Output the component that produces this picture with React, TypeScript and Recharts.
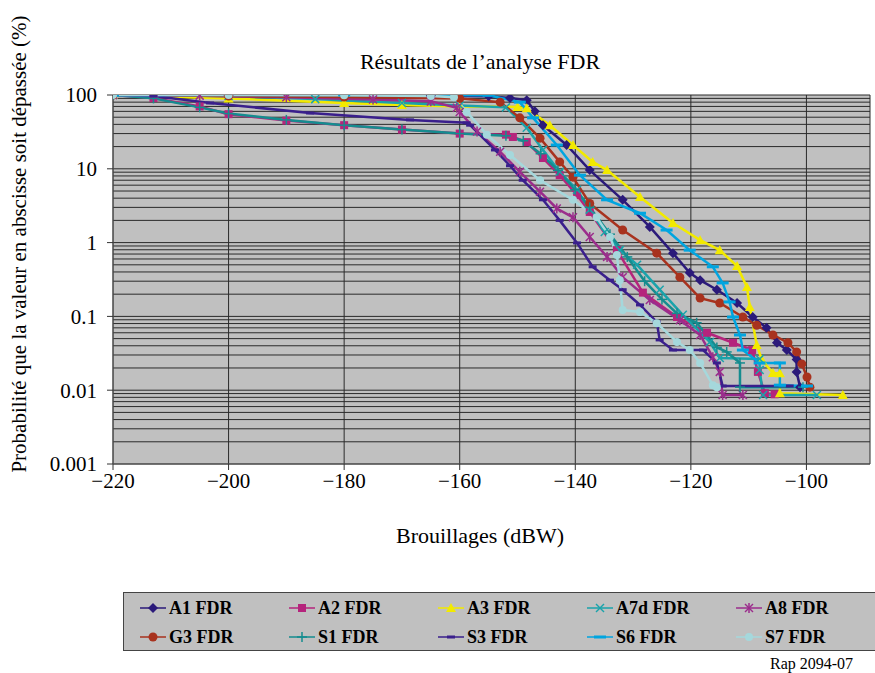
import React from 'react';
import { LineChart, Line, XAxis, YAxis, CartesianGrid } from 'recharts';

// axis ticks
const xTicks = [-220, -200, -180, -160, -140, -120, -100];
const yDecades = [0.001, 0.01, 0.1, 1, 10, 100];

// series values: interference (dBW) / probability (%)
const a1X = [-220, -200, -180, -165, -155, -151.3, -148.4, -147, -145.6, -141.5, -137.5, -131.8, -127.1, -123.1, -120.2, -118.4, -115.5, -112.0, -109.3, -106.9, -105.1, -103.4, -101.7, -101.7, -101.1];
const a1Y = [100, 99.5, 99, 98, 96, 91, 85, 60, 39, 21, 9.6, 3.8, 1.63, 0.72, 0.39, 0.31, 0.23, 0.152, 0.098, 0.07, 0.044, 0.035, 0.026, 0.0177, 0.011];

const a2X = [-220, -213, -205, -200, -190, -180, -170, -160, -152, -150.8, -148.4, -145.6, -142.7, -139.7, -137.5, -132.8, -128.3, -122.4, -117.2, -112.7, -109.4, -108.4, -107.2, -105.5];
const a2Y = [100, 91, 70, 55, 45, 39, 34, 30, 29, 27, 23, 14, 8.2, 4.4, 2.6, 0.79, 0.21, 0.098, 0.06, 0.044, 0.035, 0.0177, 0.0091, 0.0088];

const a3X = [-220, -200, -180, -170, -160, -150, -148.4, -144.4, -140.4, -137.0, -134.5, -128.8, -123.1, -118.4, -115.0, -112.0, -110.3, -109.8, -108.6, -107.7, -105.8, -104.6, -104.6, -93.7];
const a3Y = [100, 90, 78, 73, 70, 69, 66, 39, 21, 12.4, 9.6, 4.15, 1.84, 1.08, 0.79, 0.48, 0.25, 0.134, 0.041, 0.0257, 0.0171, 0.017, 0.0091, 0.0086];

const a7dX = [-220, -200, -185, -170, -160, -152, -148.4, -145.6, -142.7, -139.7, -137.5, -134.9, -132.3, -129.3, -125.4, -121.4, -116.7, -115.0, -108.1, -108.1, -107.5, -98.2];
const a7dY = [100, 97, 88, 78, 72, 68, 36, 18, 9.1, 5.2, 2.8, 1.39, 0.79, 0.5, 0.23, 0.105, 0.045, 0.0273, 0.0265, 0.0188, 0.0086, 0.0086];

const a8X = [-220, -205, -190, -175, -165, -160.5, -160, -157, -153, -149.6, -146.1, -143.2, -140.4, -137.5, -134.5, -131.8, -127.1, -121.9, -118.4, -116.2, -115.0, -114.5, -111.0];
const a8Y = [100, 98, 93, 87, 82, 67, 59, 32, 17, 9.1, 4.9, 2.9, 2.2, 1.19, 0.64, 0.34, 0.167, 0.089, 0.056, 0.028, 0.0177, 0.0086, 0.0086];

const g3X = [-220, -200, -180, -160, -153, -149.6, -146.1, -142.7, -140.4, -137.5, -131.8, -125.9, -121.9, -118.4, -115.0, -111.0, -108.6, -105.8, -103.2, -101.7, -100.8, -99.9, -99.4];
const g3Y = [100, 97, 94, 90, 80, 49, 26, 12.4, 7.7, 3.4, 1.48, 0.72, 0.34, 0.177, 0.152, 0.098, 0.076, 0.056, 0.044, 0.033, 0.0227, 0.0151, 0.011];

const s1X = [-220, -213, -205, -200, -190, -180, -170, -160, -152, -149, -146, -143, -140, -137.5, -134, -131, -128, -125, -122.4, -119, -115.5, -113.8, -111.5, -111.5, -100.6];
const s1Y = [100, 90, 68, 56, 46, 39, 34, 30, 28, 24, 16, 9.5, 5.2, 3.0, 1.3, 0.64, 0.3, 0.17, 0.11, 0.082, 0.038, 0.033, 0.0234, 0.011, 0.011];

const s3X = [-220, -213, -203.2, -185.9, -168.6, -158.8, -158.2, -153.9, -151.3, -149.1, -145.6, -142.7, -139.7, -137.0, -134.0, -131.8, -128.8, -125.9, -125.4, -123.1, -117.9, -115.5, -114.5, -102.9];
const s3Y = [100, 97, 78, 57, 46, 42, 39, 18, 11, 7.0, 3.8, 2.0, 0.99, 0.47, 0.31, 0.23, 0.143, 0.084, 0.048, 0.035, 0.035, 0.0234, 0.0114, 0.0114];

const s6X = [-220, -180, -155, -149.6, -147.3, -143.2, -139.2, -134.5, -128.8, -124.2, -120.2, -116.2, -114.5, -113.3, -112.7, -111.5, -111.0, -108.1, -104.6, -104.6, -99.9];
const s6Y = [100, 100, 99, 80, 49, 21, 8.2, 3.8, 2.5, 1.48, 0.79, 0.47, 0.284, 0.157, 0.098, 0.056, 0.035, 0.0234, 0.0234, 0.0117, 0.0114];

const s7X = [-220, -200, -180, -165, -161, -158.8, -155.3, -151.3, -146.1, -140.4, -136.3, -134.0, -132.8, -132.3, -131.8, -128.8, -125.9, -122.4, -120.2, -118.4, -116.2, -115.5];
const s7Y = [100, 100, 99, 97, 93, 59, 29, 15.4, 7.0, 3.8, 2.2, 1.19, 0.68, 0.31, 0.122, 0.115, 0.081, 0.045, 0.035, 0.0234, 0.0117, 0.011];

const zip = (xs: number[], ys: number[]) => xs.map((x, i) => ({ x, y: ys[i] }));

const series = [
  { name: 'A1 FDR', color: '#2b1a7a', shape: 'diamond', data: zip(a1X, a1Y) },
  { name: 'A2 FDR', color: '#b5247c', shape: 'square', data: zip(a2X, a2Y) },
  { name: 'A3 FDR', color: '#f2ea00', shape: 'triangle', data: zip(a3X, a3Y) },
  { name: 'A7d FDR', color: '#1aa3ab', shape: 'cross', data: zip(a7dX, a7dY) },
  { name: 'A8 FDR', color: '#9b2d8c', shape: 'star', data: zip(a8X, a8Y) },
  { name: 'G3 FDR', color: '#a8321e', shape: 'circle', data: zip(g3X, g3Y) },
  { name: 'S1 FDR', color: '#158c8f', shape: 'plus', data: zip(s1X, s1Y) },
  { name: 'S3 FDR', color: '#3a1f8c', shape: 'dash', data: zip(s3X, s3Y) },
  { name: 'S6 FDR', color: '#00a5e0', shape: 'bar', data: zip(s6X, s6Y) },
  { name: 'S7 FDR', color: '#a5d8dc', shape: 'dot', data: zip(s7X, s7Y) },
];

// log grid: every 1..9 multiple of each decade
const yGrid: number[] = [];
yDecades.forEach((d, i) => {
  if (i === yDecades.length - 1) {
    yGrid.push(d);
    return;
  }
  for (let k = 1; k < 10; k++) yGrid.push(d * k);
});

const SERIF = 'Liberation Serif, Tinos, DejaVu Serif, serif';

const Marker = ({ cx, cy, shape, color }: any) => {
  if (cx == null || cy == null) return <g />;
  switch (shape) {
    case 'diamond':
      return <polygon points={`${cx},${cy - 5} ${cx + 5},${cy} ${cx},${cy + 5} ${cx - 5},${cy}`} fill={color} />;
    case 'square':
      return <rect x={cx - 4} y={cy - 4} width={8} height={8} fill={color} />;
    case 'triangle':
      return <polygon points={`${cx},${cy - 5} ${cx + 5},${cy + 4} ${cx - 5},${cy + 4}`} fill={color} />;
    case 'cross':
      return (
        <g stroke={color} strokeWidth={1.5}>
          <line x1={cx - 4} y1={cy - 4} x2={cx + 4} y2={cy + 4} />
          <line x1={cx - 4} y1={cy + 4} x2={cx + 4} y2={cy - 4} />
        </g>
      );
    case 'star':
      return (
        <g stroke={color} strokeWidth={1.5}>
          <line x1={cx - 4} y1={cy - 4} x2={cx + 4} y2={cy + 4} />
          <line x1={cx - 4} y1={cy + 4} x2={cx + 4} y2={cy - 4} />
          <line x1={cx} y1={cy - 5} x2={cx} y2={cy + 5} />
        </g>
      );
    case 'circle':
      return <circle cx={cx} cy={cy} r={4.5} fill={color} />;
    case 'plus':
      return (
        <g stroke={color} strokeWidth={1.5}>
          <line x1={cx - 5} y1={cy} x2={cx + 5} y2={cy} />
          <line x1={cx} y1={cy - 5} x2={cx} y2={cy + 5} />
        </g>
      );
    case 'dash':
      return <rect x={cx - 4} y={cy - 1.5} width={8} height={3} fill={color} />;
    case 'bar':
      return <rect x={cx - 6} y={cy - 1.5} width={12} height={3} fill={color} />;
    default:
      return <circle cx={cx} cy={cy} r={4} fill={color} />;
  }
};

const YTick = (props: any) => {
  const { x, y, payload } = props;
  if (!yDecades.includes(payload.value)) return <g />;
  return (
    <g>
      <line x1={x + 10} x2={x + 16} y1={y} y2={y} stroke="#333" />
      <text x={x} y={y} dy="0.35em" textAnchor="end" fontSize={21} fontFamily={SERIF} fill="#000">
        {String(payload.value)}
      </text>
    </g>
  );
};

const fmtX = (v: number) => (v < 0 ? '\u2212' + Math.abs(v) : String(v));

const App = () => {
  return (
    <div style={{ position: 'absolute', left: 0, top: 0, width: 875, height: 673, overflow: 'hidden', background: '#fff', fontFamily: SERIF }}>
      <LineChart width={875} height={673} margin={{ top: 95, right: 5, bottom: 0, left: 0 }}>
        <CartesianGrid fill="#c0c0c0" fillOpacity={1} stroke="#2a2a2a" strokeWidth={1} />
        <XAxis
          type="number"
          dataKey="x"
          domain={[-220, -89]}
          ticks={xTicks}
          allowDataOverflow
          height={209}
          tickSize={6}
          tickMargin={3}
          tickFormatter={fmtX}
          axisLine={{ stroke: '#555' }}
          tickLine={{ stroke: '#333' }}
          tick={{ fontSize: 21, fontFamily: SERIF, fill: '#000' }}
        />
        <YAxis
          type="number"
          dataKey="y"
          scale="log"
          domain={[0.001, 100]}
          allowDataOverflow
          ticks={yGrid}
          interval={0}
          width={113}
          tickSize={6}
          tickMargin={10}
          tickLine={false}
          axisLine={{ stroke: '#555' }}
          tick={<YTick />}
        />
        {series.map((s) => (
          <Line
            key={s.name}
            data={s.data}
            dataKey="y"
            name={s.name}
            type="linear"
            stroke={s.color}
            strokeWidth={2.5}
            isAnimationActive={false}
            dot={(p: any) => <Marker key={`${s.name}-${p.index}`} cx={p.cx} cy={p.cy} shape={s.shape} color={s.color} />}
            activeDot={false}
          />
        ))}
      </LineChart>

      <div style={{ position: 'absolute', left: 280, width: 400, top: 49, textAlign: 'center', fontSize: 22 }}>
        Résultats de l’analyse FDR
      </div>
      <div
        style={{
          position: 'absolute',
          left: 19,
          top: 244,
          transform: 'translate(-50%, -50%) rotate(-90deg)',
          whiteSpace: 'nowrap',
          fontSize: 21,
        }}
      >
        Probabilité que la valeur en abscisse soit dépassée (%)
      </div>
      <div style={{ position: 'absolute', left: 330, width: 300, top: 523, textAlign: 'center', fontSize: 22 }}>
        Brouillages (dBW)
      </div>

      <div
        style={{
          position: 'absolute',
          left: 123,
          top: 592,
          width: 770,
          height: 57,
          background: '#c0c0c0',
          border: '1px solid #444',
        }}
      >
        {series.map((s, i) => (
          <div
            key={s.name}
            style={{
              position: 'absolute',
              left: 16 + (i % 5) * 149,
              top: i < 5 ? 4 : 33,
              display: 'flex',
              alignItems: 'center',
              height: 22,
              fontWeight: 'bold',
              fontSize: 18,
            }}
          >
            <svg width={26} height={14} style={{ marginRight: 3 }}>
              <line x1={0} x2={26} y1={7} y2={7} stroke={s.color} strokeWidth={1.5} />
              <Marker cx={13} cy={7} shape={s.shape} color={s.color} />
            </svg>
            {s.name}
          </div>
        ))}
      </div>
      <div style={{ position: 'absolute', left: 770, top: 655, fontSize: 16 }}>Rap 2094-07</div>
    </div>
  );
};

export default App;
